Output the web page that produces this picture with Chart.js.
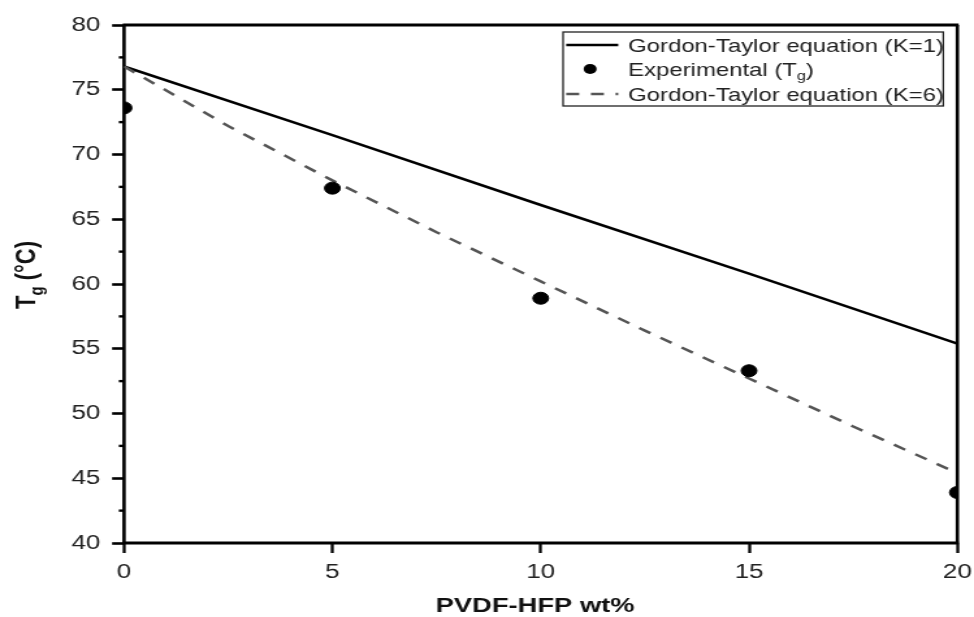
<!DOCTYPE html>
<html>
<head>
<meta charset="utf-8">
<script src="https://cdn.jsdelivr.net/npm/chart.js@4.4.1/dist/chart.umd.min.js"></script>
<style>
  html, body { margin: 0; padding: 0; background: #fff; }
</style>
</head>
<body>
<!-- the reference figure is stretched sideways, so the canvas is drawn narrower and widened -->
<canvas id="c" width="749" height="617" style="display:block;width:974px;height:617px"></canvas>
<script>
// values
const wtPct = [0, 5, 10, 15, 20];
const tgExperimental = [73.6, 67.4, 58.9, 53.3, 43.9];
const tgK1 = [76.8, 71.5, 66.1, 60.8, 55.4];
const wtPctK6 = [0, 2.5, 5, 7.5, 10, 12.5, 15, 17.5, 20];
const tgK6 = [76.8, 72.2, 68.0, 64.0, 60.2, 56.4, 52.7, 49.0, 45.4];
const xTicks = [0, 5, 10, 15, 20];
const yTicks = [40, 45, 50, 55, 60, 65, 70, 75, 80];
const yMinorTicks = [42.5, 47.5, 52.5, 57.5, 62.5, 67.5, 72.5, 77.5];

const FONT = "'Liberation Sans', Arial, sans-serif";

// text with subscript parts, baseline at y
function drawRich(ctx, parts, x, y, size, weight) {
  let cx = x;
  parts.forEach(([t, sub]) => {
    const s = sub ? size * 0.68 : size;
    ctx.font = `${weight} ${s}px ${FONT}`;
    ctx.fillText(t, cx, sub ? y + size * 0.25 : y);
    cx += ctx.measureText(t).width;
  });
  return cx - x;
}
function richWidth(ctx, parts, size, weight) {
  let w = 0;
  parts.forEach(([t, sub]) => {
    ctx.font = `${weight} ${sub ? size * 0.68 : size}px ${FONT}`;
    w += ctx.measureText(t).width;
  });
  return w;
}

const figurePlugin = {
  id: 'figure',
  beforeDatasetsDraw(chart) {
    const { ctx, chartArea: a, scales: { y } } = chart;
    ctx.save();
    ctx.strokeStyle = '#000';
    ctx.lineWidth = 2.4;
    yMinorTicks.forEach(v => {
      const py = y.getPixelForValue(v);
      ctx.beginPath();
      ctx.moveTo(a.left - 4, py);
      ctx.lineTo(a.left, py);
      ctx.stroke();
    });
    // frame round the plot
    ctx.lineWidth = 3;
    ctx.beginPath();
    ctx.moveTo(a.left - 1, a.top); ctx.lineTo(a.right + 1, a.top);
    ctx.moveTo(a.left - 1, a.bottom); ctx.lineTo(a.right + 1, a.bottom);
    ctx.stroke();
    ctx.lineWidth = 2.6;
    ctx.beginPath();
    ctx.moveTo(a.left, a.top); ctx.lineTo(a.left, a.bottom);
    ctx.moveTo(a.right, a.top); ctx.lineTo(a.right, a.bottom);
    ctx.stroke();
    ctx.restore();
  },
  afterDraw(chart) {
    const { ctx } = chart;
    ctx.save();
    ctx.textBaseline = 'alphabetic';
    ctx.textAlign = 'left';

    // legend box
    const L = 433, R = 725.4, T = 32, B = 106;
    ctx.fillStyle = '#fff';
    ctx.fillRect(L, T, R - L, B - T);
    ctx.strokeStyle = '#222';
    ctx.lineWidth = 1.3;
    ctx.strokeRect(L, T, R - L, B - T);

    const rows = [45, 69, 94];
    ctx.strokeStyle = '#000';
    ctx.lineWidth = 2.5;
    ctx.beginPath();
    ctx.moveTo(435.4, rows[0]); ctx.lineTo(475.4, rows[0]);
    ctx.stroke();

    ctx.fillStyle = '#000';
    ctx.beginPath();
    ctx.arc(453.8, rows[1], 5, 0, Math.PI * 2);
    ctx.fill();

    ctx.strokeStyle = '#555';
    ctx.setLineDash([10, 9]);
    ctx.beginPath();
    ctx.moveTo(435.4, rows[2]); ctx.lineTo(475.4, rows[2]);
    ctx.stroke();
    ctx.setLineDash([]);

    ctx.fillStyle = '#222';
    drawRich(ctx, [['Gordon-Taylor equation (K=1)']], 483, rows[0] + 6.5, 18.4, 'normal');
    drawRich(ctx, [['Experimental (T'], ['g', true], [')']], 483, rows[1] + 6.5, 18.4, 'normal');
    drawRich(ctx, [['Gordon-Taylor equation (K=6)']], 483, rows[2] + 6.5, 18.4, 'normal');

    // x title
    ctx.fillStyle = '#111';
    ctx.font = `bold 21px ${FONT}`;
    ctx.textAlign = 'center';
    ctx.fillText('PVDF-HFP wt%', 411.5, 612);

    // y title
    ctx.textAlign = 'left';
    const yParts = [['T'], ['g', true], [' (°C)']];
    const w = richWidth(ctx, yParts, 22, 'bold');
    ctx.translate(27, 275);
    ctx.rotate(-Math.PI / 2);
    drawRich(ctx, yParts, -w / 2, 0, 22, 'bold');
    ctx.restore();
  }
};

const tickFont = { family: FONT, size: 20 };

new Chart(document.getElementById('c'), {
  type: 'scatter',
  data: {
    datasets: [
      {
        label: 'Gordon-Taylor equation (K=1)',
        data: wtPct.map((x, i) => ({ x, y: tgK1[i] })),
        showLine: true,
        borderColor: '#000',
        borderWidth: 2.5,
        pointRadius: 0,
        order: 3
      },
      {
        label: 'Gordon-Taylor equation (K=6)',
        data: wtPctK6.map((x, i) => ({ x, y: tgK6[i] })),
        showLine: true,
        borderColor: '#555',
        borderWidth: 2.5,
        borderDash: [10, 9],
        pointRadius: 0,
        order: 2
      },
      {
        label: 'Experimental (Tg)',
        data: wtPct.map((x, i) => ({ x, y: tgExperimental[i] })),
        showLine: false,
        backgroundColor: '#000',
        borderColor: '#000',
        pointRadius: 6,
        pointStyle: 'circle',
        order: 1
      }
    ]
  },
  options: {
    responsive: false,
    animation: false,
    devicePixelRatio: 1,
    layout: { padding: { top: 25, right: 12.8, bottom: 0, left: 0 } },
    plugins: { legend: { display: false }, tooltip: { enabled: false } },
    scales: {
      x: {
        type: 'linear',
        min: 0,
        max: 20,
        afterBuildTicks: s => { s.ticks = xTicks.map(v => ({ value: v })); },
        afterFit: s => { s.height = 74; s.paddingLeft = 0; s.paddingRight = 0; },
        ticks: { font: tickFont, color: '#222', padding: 7, maxRotation: 0 },
        grid: { drawOnChartArea: false, tickLength: 10, tickColor: '#000', tickWidth: 2.3 },
        border: { display: false }
      },
      y: {
        type: 'linear',
        min: 40,
        max: 80,
        afterBuildTicks: s => { s.ticks = yTicks.map(v => ({ value: v })); },
        afterFit: s => { s.width = 95.4; s.paddingTop = 0; s.paddingBottom = 0; },
        ticks: { font: tickFont, color: '#222', padding: 9 },
        grid: { drawOnChartArea: false, tickLength: 9.2, tickColor: '#000', tickWidth: 2.6 },
        border: { display: false }
      }
    }
  },
  plugins: [figurePlugin]
});
</script>
</body>
</html>
